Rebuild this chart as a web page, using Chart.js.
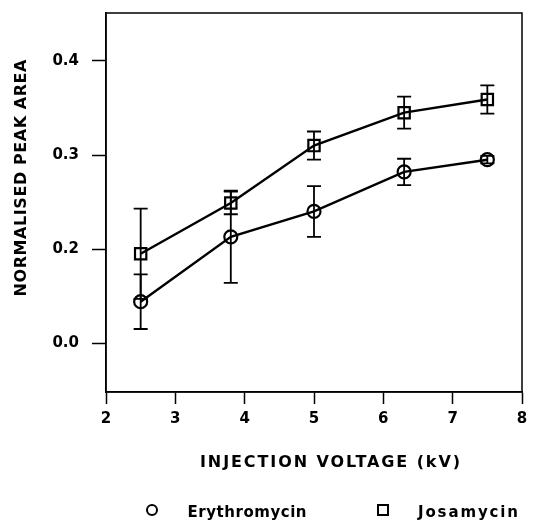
<!DOCTYPE html>
<html>
<head>
<meta charset="utf-8">
<script src="https://cdn.jsdelivr.net/npm/chart.js@4"></script>
<style>
  html, body { margin: 0; padding: 0; background: #fff; }
  #wrap { width: 541px; height: 527px; position: relative; }
</style>
</head>
<body>
<div id="wrap"><canvas id="chart"></canvas></div>
<script>
// Data
const voltage = [2.5, 3.8, 5.0, 6.3, 7.5];
const erythromycin = [0.144, 0.213, 0.240, 0.282, 0.295];
const erythromycinErr = [0.029, 0.049, 0.027, 0.014, 0.004];
const josamycin = [0.195, 0.249, 0.310, 0.345, 0.359];
const josamycinErr = [0.048, 0.012, 0.015, 0.017, 0.015];

// Axis ticks (the original figure labels its lowest tick "0.0")
const xTickValues = [2, 3, 4, 5, 6, 7, 8];
const yTickValues = [0.1, 0.2, 0.3, 0.4];
const yTickLabels = ['0.0', '0.2', '0.3', '0.4'];

const xTitle = 'INJECTION VOLTAGE (kV)';
const yTitle = 'NORMALISED PEAK AREA';
const seriesNames = ['Erythromycin', 'Josamycin'];

const FONT = "'DejaVu Sans', 'Liberation Sans', sans-serif";

function toPoints(xs, ys) {
  return xs.map(function(x, i) { return { x: x, y: ys[i] }; });
}

// Draw text centred on x so that it spans the given width
function fitText(ctx, text, x, y, width) {
  const w = ctx.measureText(text).width;
  ctx.save();
  ctx.textAlign = 'center';
  if (w > width) {
    ctx.translate(x, y);
    ctx.scale(width / w, 1);
    ctx.fillText(text, 0, 0);
  } else {
    const gap = (width - w) / (text.length - 1);
    ctx.letterSpacing = gap + 'px';
    ctx.fillText(text, x + gap / 2, y);
  }
  ctx.restore();
}

// Error bars, frame, axis titles and legend
const extras = {
  id: 'extras',
  beforeDatasetsDraw(chart) {
    const ctx = chart.ctx;
    const xs = chart.scales.x, ys = chart.scales.y;
    const errs = [erythromycinErr, josamycinErr];
    ctx.save();
    ctx.strokeStyle = '#000';
    ctx.lineWidth = 1.8;
    chart.data.datasets.forEach(function(ds, d) {
      ds.data.forEach(function(p, i) {
        const e = errs[d][i];
        const px = xs.getPixelForValue(p.x);
        const top = ys.getPixelForValue(p.y + e);
        const bot = ys.getPixelForValue(p.y - e);
        ctx.beginPath();
        ctx.moveTo(px, top); ctx.lineTo(px, bot);
        ctx.moveTo(px - 7, top); ctx.lineTo(px + 7, top);
        ctx.moveTo(px - 7, bot); ctx.lineTo(px + 7, bot);
        ctx.stroke();
      });
    });
    ctx.restore();
  },
  afterDraw(chart) {
    const ctx = chart.ctx;
    const a = chart.chartArea;
    ctx.save();
    ctx.strokeStyle = '#000';
    ctx.lineWidth = 1.5;
    ctx.strokeRect(a.left, a.top, a.right - a.left, a.bottom - a.top);

    ctx.fillStyle = '#000';
    ctx.textBaseline = 'middle';
    ctx.font = 'bold 16px ' + FONT;
    fitText(ctx, xTitle, 330, 463, 260);

    ctx.save();
    ctx.translate(22, 178);
    ctx.rotate(-Math.PI / 2);
    ctx.font = 'bold 16px ' + FONT;
    fitText(ctx, yTitle, 0, 0, 237);
    ctx.restore();

    // legend
    ctx.lineWidth = 2;
    ctx.beginPath();
    ctx.arc(152, 510, 5, 0, Math.PI * 2);
    ctx.stroke();
    ctx.strokeRect(378, 505, 10, 10);
    ctx.font = 'bold 15px ' + FONT;
    fitText(ctx, seriesNames[0], 247, 513, 119);
    fitText(ctx, seriesNames[1], 468, 513, 100);
    ctx.restore();
  }
};

new Chart(document.getElementById('chart'), {
  type: 'scatter',
  data: {
    datasets: [
      {
        label: seriesNames[0],
        data: toPoints(voltage, erythromycin),
        showLine: true,
        borderColor: '#000',
        borderWidth: 2.4,
        backgroundColor: 'rgba(0,0,0,0)',
        pointStyle: 'circle',
        pointRadius: 6.5,
        pointBorderWidth: 2.2,
        pointBorderColor: '#000'
      },
      {
        label: seriesNames[1],
        data: toPoints(voltage, josamycin),
        showLine: true,
        borderColor: '#000',
        borderWidth: 2.4,
        backgroundColor: 'rgba(0,0,0,0)',
        pointStyle: 'rect',
        pointRadius: 8,
        pointBorderWidth: 2.2,
        pointBorderColor: '#000'
      }
    ]
  },
  options: {
    responsive: true,
    maintainAspectRatio: false,
    animation: false,
    layout: { padding: { top: 13, right: 19, left: 0, bottom: 0 } },
    plugins: { legend: { display: false }, tooltip: { enabled: false } },
    scales: {
      x: {
        type: 'linear',
        min: 2, max: 8,
        afterBuildTicks: function(s) { s.ticks = xTickValues.map(function(v) { return { value: v }; }); },
        afterFit: function(s) { s.height = 527 - 392; s.paddingLeft = 0; s.paddingRight = 0; },
        ticks: {
          color: '#000',
          font: { family: FONT, size: 15, weight: 'bold' },
          padding: 6,
          maxRotation: 0
        },
        grid: { drawOnChartArea: false, tickLength: 12, tickColor: '#000', tickWidth: 1.5 },
        border: { color: '#000', width: 1.5 }
      },
      y: {
        type: 'linear',
        min: 0.048, max: 0.451,
        afterBuildTicks: function(s) { s.ticks = yTickValues.map(function(v) { return { value: v }; }); },
        afterFit: function(s) { s.width = 106; s.paddingTop = 0; s.paddingBottom = 0; },
        ticks: {
          color: '#000',
          font: { family: FONT, size: 15, weight: 'bold' },
          padding: 13,
          callback: function(v) {
            const i = yTickValues.indexOf(v);
            return i >= 0 ? yTickLabels[i] : '';
          }
        },
        grid: { drawOnChartArea: false, tickLength: 14, tickColor: '#000', tickWidth: 1.5 },
        border: { color: '#000', width: 1.5 }
      }
    }
  },
  plugins: [extras]
});
</script>
</body>
</html>
